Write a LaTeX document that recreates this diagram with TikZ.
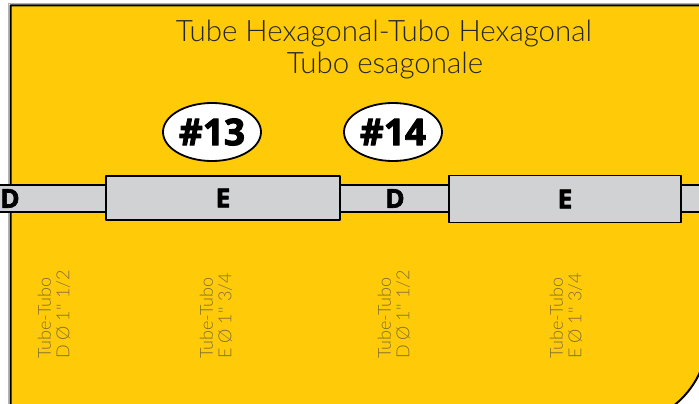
\documentclass[tikz,border=0pt]{standalone}
\usepackage{fontspec}
\setmainfont{Lato}
\newfontfamily\thinfont{Lato Light}
\newfontfamily\heavyfont[BoldFeatures={FakeBold=2.5}]{Open Sans}
\usetikzlibrary{
    positioning,
    shapes.geometric
}
\definecolor{signyellow}{RGB}{255,202,8}
\definecolor{pipegray}{RGB}{209,210,212}
\definecolor{notebrown}{RGB}{128,112,52}
\tikzset{
    every picture/.style = {
        line join = round
    },
    pipe/.style = {
        draw = black,
        fill = pipegray,
        line width = 1.3pt,
        inner sep = 0pt,
        outer sep = 0pt
    },
    tubeletter/.style = {
        inner sep = 0pt,
        font = \heavyfont\bfseries\fontsize{26}{26}\selectfont
    },
    badge/.style = {
        ellipse,
        draw = black,
        line width = 1.8pt,
        fill = white,
        minimum width = 98pt,
        minimum height = 58pt,
        inner sep = 0pt,
        font = \heavyfont\bfseries\fontsize{37}{37}\selectfont
    },
    titleline/.style = {
        anchor = base,
        inner sep = 0pt,
        text = black!85,
        font = \thinfont\fontsize{29.5}{29.5}\selectfont
    },
    sizenote/.style = {
        rotate = 90,
        anchor = west,
        align = left,
        inner sep = 0pt,
        text = notebrown,
        font = \thinfont\fontsize{18}{18.5}\selectfont
    }
}

\begin{document}
\begin{tikzpicture}[x=1pt, y=-1pt]
    \useasboundingbox (0,0) rectangle (699,404);

    % sign plate
    \draw[gray!60, line width = 0.8pt] (8.4,410) -- (8.4,3.2) -- (705,3.2);
    \filldraw[signyellow, draw = black, line width = 2pt]
        (10.5,425) -- (10.5,5.5) -- (708,5.5) -- (708,335)
        arc[start angle = 0, end angle = 90, radius = 90] -- cycle;

    % title
    \node[titleline] (title) at (384,42) {Tube Hexagonal-Tubo Hexagonal};
    \node[titleline] (subtitle) at (385,74) {Tubo esagonale};

    % tube line
    \node[pipe, minimum width = 720pt, minimum height = 27pt] (line) at (350,198.5) {};
    \node[pipe, minimum width = 234pt, minimum height = 44pt] (e13) at (223,198) {};
    \node[pipe, minimum width = 232pt, minimum height = 47pt] (e14) at (565,199) {};

    \node[tubeletter] (d12) at (10,198.5) {D};
    \node[tubeletter] at (e13) {E};
    \node[tubeletter] (d14) at (395,198.5) {D};
    \node[tubeletter] at (e14) {E};

    % numbers
    \node[badge] (n13) at (212,132) {\#13};
    \node[badge] (n14) at (393,132) {\#14};

    % sizes
    \node[sizenote] (s1) at (54,359) {Tube-Tubo\\D Ø 1'' 1/2};
    \node[sizenote] (s2) at (216,359) {Tube-Tubo\\E Ø 1'' 3/4};
    \node[sizenote] (s3) at (394,359) {Tube-Tubo\\D Ø 1'' 1/2};
    \node[sizenote] (s4) at (566,359) {Tube-Tubo\\E Ø 1'' 3/4};
\end{tikzpicture}
\end{document}
